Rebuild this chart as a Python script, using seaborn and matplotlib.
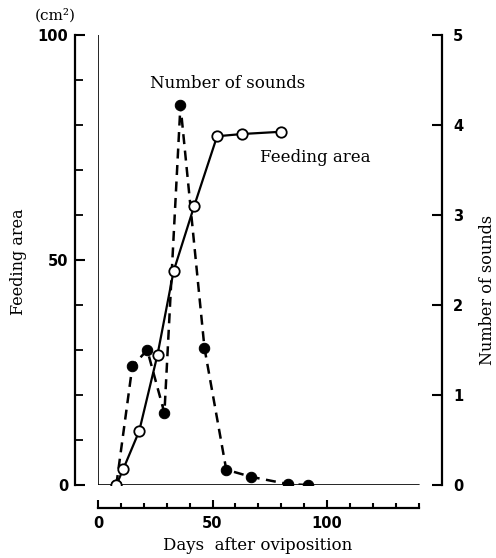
import matplotlib
matplotlib.use("Agg")
import matplotlib.pyplot as plt
import seaborn as sns
from matplotlib.ticker import FixedLocator

# ---- data ----
area_days = [8, 11, 18, 26, 33, 42, 52, 63, 80]
feeding_area = [0, 3.5, 12, 29, 47.5, 62, 77.5, 78, 78.5]

sound_days = [8, 15, 21.5, 29, 36, 46.5, 56, 67, 83, 91.5]
num_sounds = [0, 1.32, 1.5, 0.8, 4.22, 1.52, 0.17, 0.09, 0.01, 0.0]

x_major = [0, 50, 100]
x_minor = list(range(10, 141, 10))
left_major = [0, 50, 100]
left_minor = list(range(10, 100, 10))
right_ticks = [0, 1, 2, 3, 4, 5]

sns.set_style("ticks")
plt.rcParams['font.family'] = ['DejaVu Serif']
plt.rcParams['text.color'] = 'black'
plt.rcParams['axes.labelcolor'] = 'black'
plt.rcParams['xtick.color'] = 'black'
plt.rcParams['ytick.color'] = 'black'

W, H = 496, 558
fig = plt.figure(figsize=(W / 100, H / 100), dpi=100)
ax = fig.add_axes([98 / W, (H - 485) / H, 344 / W, 450 / H])
ax2 = ax.twinx()
ax.set_zorder(ax2.get_zorder() + 1)
ax.patch.set_visible(False)

ink = 'black'

sns.lineplot(x=area_days, y=feeding_area, ax=ax, color=ink, lw=1.6,
             marker='o', markersize=7.5, markerfacecolor='white',
             markeredgecolor=ink, markeredgewidth=1.3, zorder=4)

sns.lineplot(x=sound_days, y=num_sounds, ax=ax2, color=ink, lw=1.8,
             linestyle='--', marker='o', markersize=7.5,
             markerfacecolor=ink, markeredgecolor=ink, zorder=3)
for ln in ax2.lines:
    ln.set_dashes((4, 2.6))

xmax = 150.2
ax.set_xlim(0, xmax)
ax.set_ylim(0, 100)
ax2.set_ylim(0, 5)

# inner frame lines
ax.axvline(0, color=ink, lw=1.2, zorder=2)
ax.axhline(0, xmin=0, xmax=140 / xmax, color=ink, lw=1.2, zorder=2)

off = 23 * 72 / 100
for s in ['top', 'right']:
    ax.spines[s].set_visible(False)
for s in ['top', 'left', 'bottom']:
    ax2.spines[s].set_visible(False)
ax.spines['left'].set_position(('outward', off))
ax.spines['bottom'].set_position(('outward', off))
ax.spines['bottom'].set_bounds(0, 140)
ax.spines['left'].set_bounds(0, 100)
for sp in [ax.spines['left'], ax.spines['bottom'], ax2.spines['right']]:
    sp.set_linewidth(1.6)
    sp.set_color(ink)

ax.set_xticks(x_major)
ax.xaxis.set_minor_locator(FixedLocator(x_minor))
ax.set_yticks(left_major)
ax.yaxis.set_minor_locator(FixedLocator(left_minor))
ax2.set_yticks(right_ticks)

tickfont = dict(family='DejaVu Sans', weight='bold', size=10.5, color=ink)
ax.set_xticklabels([str(v) for v in x_major], fontdict=tickfont)
ax.set_yticklabels([str(v) for v in left_major], fontdict=tickfont)
ax2.set_yticklabels([str(v) for v in right_ticks], fontdict=tickfont)

ax.tick_params(axis='x', which='major', direction='in', length=6, width=1.5, pad=6, colors=ink)
ax.tick_params(axis='x', which='minor', direction='in', length=3.5, width=1.5, colors=ink)
ax.tick_params(axis='y', which='major', direction='in', length=7, width=1.5, pad=5, colors=ink)
ax.tick_params(axis='y', which='minor', direction='in', length=5.5, width=1.3, colors=ink)
ax2.tick_params(axis='y', which='major', direction='in', length=7, width=1.5, pad=8, colors=ink)

labfont = dict(family='DejaVu Serif', size=12, color=ink)
ax.set_xlabel('Days  after oviposition', fontdict=labfont, va='center')
ax.xaxis.set_label_coords((258 - 98) / 344, (485 - 545) / 450)
ax.set_ylabel('Feeding area', fontdict=dict(family='DejaVu Serif', size=11.5, color=ink),
              va='center', ha='center')
ax.yaxis.set_label_coords((19 - 98) / 344, (485 - 262) / 450)
ax2.set_ylabel('Number of sounds', fontdict=dict(family='DejaVu Serif', size=11.5, color=ink),
               va='center', ha='center')
ax2.yaxis.set_label_coords((488 - 98) / 344, (485 - 290) / 450)

ax.text(56.8, 89.3, 'Number of sounds', ha='center', va='center', **labfont)
ax.text(94.8, 72.7, 'Feeding area', ha='center', va='center', **labfont)
fig.text(55 / W, 1 - 15 / H, '(cm²)', ha='center', va='center',
         family='DejaVu Serif', size=11, color=ink)

fig.savefig('out.png', dpi=100)
